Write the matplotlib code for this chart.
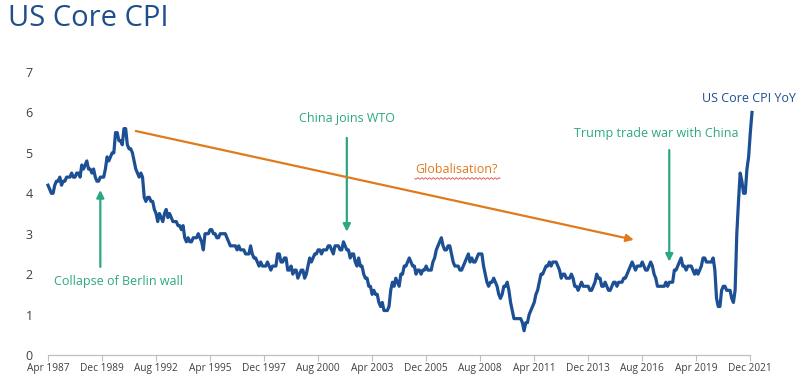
import numpy as np
import matplotlib
matplotlib.use("Agg")
import matplotlib.pyplot as plt

# Monthly US core CPI YoY (%), Apr 1987 .. Jan 2022
cpi_1987 = [4.2, 4.1, 4.0, 4.0, 4.2, 4.3, 4.3, 4.4, 4.2]
cpi_1988 = [4.3, 4.3, 4.4, 4.4, 4.4, 4.5, 4.4, 4.4, 4.5, 4.5, 4.4, 4.7]
cpi_1989 = [4.6, 4.7, 4.8, 4.6, 4.6, 4.5, 4.6, 4.4, 4.3, 4.3, 4.4, 4.4]
cpi_1990 = [4.4, 4.6, 4.9, 4.8, 4.9, 5.0, 5.0, 5.5, 5.5, 5.3, 5.3, 5.2]
cpi_1991 = [5.6, 5.6, 5.2, 5.1, 5.1, 5.0, 4.8, 4.6, 4.5, 4.4, 4.5, 4.4]
cpi_1992 = [3.9, 3.8, 3.9, 3.9, 3.8, 3.8, 3.6, 3.5, 3.3, 3.5, 3.4, 3.3]
cpi_1993 = [3.5, 3.6, 3.4, 3.5, 3.4, 3.3, 3.3, 3.3, 3.2, 3.2, 3.1, 3.2]
cpi_1994 = [2.9, 2.8, 2.9, 2.8, 2.8, 2.9, 2.9, 2.9, 3.0, 2.9, 2.8, 2.6]
cpi_1995 = [3.0, 3.0, 3.0, 3.1, 3.1, 3.0, 3.0, 2.9, 2.9, 3.0, 3.0, 3.0]
cpi_1996 = [3.0, 2.9, 2.8, 2.7, 2.7, 2.7, 2.7, 2.6, 2.7, 2.6, 2.6, 2.6]
cpi_1997 = [2.5, 2.5, 2.5, 2.7, 2.5, 2.4, 2.4, 2.3, 2.2, 2.3, 2.2, 2.2]
cpi_1998 = [2.2, 2.3, 2.2, 2.1, 2.2, 2.2, 2.2, 2.5, 2.5, 2.3, 2.3, 2.4]
cpi_1999 = [2.4, 2.1, 2.1, 2.2, 2.0, 2.1, 2.1, 1.9, 2.0, 2.1, 2.1, 1.9]
cpi_2000 = [2.0, 2.2, 2.4, 2.3, 2.4, 2.5, 2.5, 2.6, 2.6, 2.5, 2.6, 2.6]
cpi_2001 = [2.6, 2.7, 2.7, 2.6, 2.5, 2.7, 2.7, 2.7, 2.6, 2.6, 2.8, 2.7]
cpi_2002 = [2.6, 2.6, 2.4, 2.5, 2.5, 2.3, 2.2, 2.4, 2.2, 2.2, 2.0, 1.9]
cpi_2003 = [1.9, 1.7, 1.7, 1.5, 1.6, 1.5, 1.5, 1.3, 1.2, 1.3, 1.1, 1.1]
cpi_2004 = [1.1, 1.2, 1.6, 1.8, 1.7, 1.9, 1.8, 1.7, 2.0, 2.0, 2.2, 2.2]
cpi_2005 = [2.3, 2.4, 2.3, 2.2, 2.2, 2.0, 2.1, 2.1, 2.0, 2.1, 2.1, 2.2]
cpi_2006 = [2.1, 2.1, 2.1, 2.3, 2.4, 2.6, 2.7, 2.8, 2.9, 2.7, 2.6, 2.6]
cpi_2007 = [2.7, 2.7, 2.5, 2.3, 2.2, 2.2, 2.2, 2.1, 2.1, 2.2, 2.3, 2.4]
cpi_2008 = [2.5, 2.3, 2.4, 2.3, 2.3, 2.4, 2.5, 2.5, 2.5, 2.2, 2.0, 1.8]
cpi_2009 = [1.7, 1.8, 1.8, 1.9, 1.8, 1.7, 1.5, 1.4, 1.5, 1.7, 1.7, 1.8]
cpi_2010 = [1.6, 1.3, 1.1, 0.9, 0.9, 0.9, 0.9, 0.9, 0.8, 0.6, 0.8, 0.8]
cpi_2011 = [1.0, 1.1, 1.2, 1.3, 1.5, 1.6, 1.8, 2.0, 2.0, 2.1, 2.2, 2.2]
cpi_2012 = [2.3, 2.2, 2.3, 2.3, 2.3, 2.2, 2.1, 1.9, 2.0, 2.0, 1.9, 1.9]
cpi_2013 = [1.9, 2.0, 1.9, 1.7, 1.7, 1.6, 1.7, 1.8, 1.7, 1.7, 1.7, 1.7]
cpi_2014 = [1.6, 1.6, 1.7, 1.8, 2.0, 1.9, 1.9, 1.7, 1.7, 1.8, 1.7, 1.6]
cpi_2015 = [1.6, 1.7, 1.8, 1.8, 1.7, 1.8, 1.8, 1.8, 1.9, 1.9, 2.0, 2.1]
cpi_2016 = [2.2, 2.3, 2.2, 2.1, 2.2, 2.2, 2.2, 2.3, 2.2, 2.1, 2.1, 2.2]
cpi_2017 = [2.3, 2.2, 2.0, 1.9, 1.7, 1.7, 1.7, 1.7, 1.7, 1.8, 1.7, 1.8]
cpi_2018 = [1.8, 1.8, 2.1, 2.1, 2.2, 2.3, 2.4, 2.2, 2.2, 2.1, 2.2, 2.2]
cpi_2019 = [2.2, 2.1, 2.0, 2.1, 2.0, 2.1, 2.2, 2.4, 2.4, 2.3, 2.3, 2.3]
cpi_2020 = [2.3, 2.4, 2.1, 1.4, 1.2, 1.2, 1.6, 1.7, 1.7, 1.6, 1.6, 1.6]
cpi_2021 = [1.4, 1.3, 1.6, 3.0, 3.8, 4.5, 4.3, 4.0, 4.0, 4.6, 4.9, 5.5]
cpi_2022 = [6.0]

core_cpi = (cpi_1987 + cpi_1988 + cpi_1989 + cpi_1990 + cpi_1991 + cpi_1992 +
            cpi_1993 + cpi_1994 + cpi_1995 + cpi_1996 + cpi_1997 + cpi_1998 +
            cpi_1999 + cpi_2000 + cpi_2001 + cpi_2002 + cpi_2003 + cpi_2004 +
            cpi_2005 + cpi_2006 + cpi_2007 + cpi_2008 + cpi_2009 + cpi_2010 +
            cpi_2011 + cpi_2012 + cpi_2013 + cpi_2014 + cpi_2015 + cpi_2016 +
            cpi_2017 + cpi_2018 + cpi_2019 + cpi_2020 + cpi_2021 + cpi_2022)

tick_labels = ["Apr 1987", "Dec 1989", "Aug 1992", "Apr 1995", "Dec 1997",
               "Aug 2000", "Apr 2003", "Dec 2005", "Aug 2008", "Apr 2011",
               "Dec 2013", "Aug 2016", "Apr 2019", "Dec 2021"]
tick_step = 32  # months between labels
y_ticks = [0, 1, 2, 3, 4, 5, 6, 7]

BLUE = "#1C4F93"
GREEN = "#2BA883"
ORANGE = "#E07A1C"
GRAY = "#404040"
FONT = "Open Sans"

W, H = 804, 389
fig = plt.figure(figsize=(W / 100, H / 100), dpi=100)
ax = fig.add_axes([48 / W, 1 - 355 / H, (752 - 48) / W, (355 - 72) / H])

x = np.arange(len(core_cpi))
ax.plot(x, core_cpi, color=BLUE, lw=2.3, solid_joinstyle="round", clip_on=False)

ax.set_xlim(0, len(core_cpi) - 1)
ax.set_ylim(0, 7)
ax.set_xticks([i * tick_step for i in range(len(tick_labels))])
ax.set_xticklabels(tick_labels, fontsize=7.3, color=GRAY, family=FONT)
ax.set_yticks(y_ticks)
ax.set_yticklabels([str(v) for v in y_ticks], fontsize=9, color=GRAY, family=FONT)
ax.tick_params(axis="y", length=0, pad=11)
ax.tick_params(axis="x", length=4, width=0.8, color="#BFBFBF", pad=2)
for s in ["top", "right", "left"]:
    ax.spines[s].set_visible(False)
ax.spines["bottom"].set_color("#BFBFBF")
ax.spines["bottom"].set_linewidth(0.9)
ax.spines["bottom"].set_bounds(0, (len(tick_labels) - 1) * tick_step)

# Title
fig.text(8 / W, 1 - 18 / H, "US Core CPI", fontsize=21, color="#1F4E8C",
         family=FONT, fontweight="medium", va="center", ha="left")

green_arrow = dict(arrowstyle="-|>", color=GREEN, lw=1.6, mutation_scale=11,
                   shrinkA=0, shrinkB=0)
ann_kw = dict(fontsize=9, family=FONT, fontweight="medium", va="center")

# Collapse of Berlin wall
ax.annotate("", xy=(31, 4.08), xytext=(31, 2.18), arrowprops=green_arrow)
ax.text(3.6, 1.81, "Collapse of Berlin wall", color=GREEN, ha="left", **ann_kw)

# China joins WTO
ax.annotate("", xy=(177, 3.05), xytext=(177, 5.37), arrowprops=green_arrow)
ax.text(177, 5.84, "China joins WTO", color=GREEN, ha="center", **ann_kw)

# Trump trade war
ax.annotate("", xy=(368, 2.31), xytext=(368, 5.07), arrowprops=green_arrow)
ax.text(360, 5.47, "Trump trade war with China", color=GREEN, ha="center", **ann_kw)

# Globalisation arrow
ax.annotate("", xy=(347, 2.85), xytext=(52, 5.54),
            arrowprops=dict(arrowstyle="-|>", color=ORANGE, lw=1.6,
                            mutation_scale=11, shrinkA=0, shrinkB=0))
ax.text(217.5, 4.58, "Globalisation?", color=ORANGE, ha="left", **ann_kw)
# spell-check squiggle under the label (figure pixel coords)
wx = np.linspace(415, 500, 120)
wy = 178.5 + 0.8 * np.sin((wx - 415) / 85 * 2 * np.pi * 22)
fig.add_artist(plt.Line2D(wx / W, 1 - wy / H, color="#E04848", lw=0.6,
                          transform=fig.transFigure))

# Series label
ax.text(415, 6.34, "US Core CPI YoY", color=BLUE, ha="center", **ann_kw)

fig.savefig("out.png", dpi=100)
